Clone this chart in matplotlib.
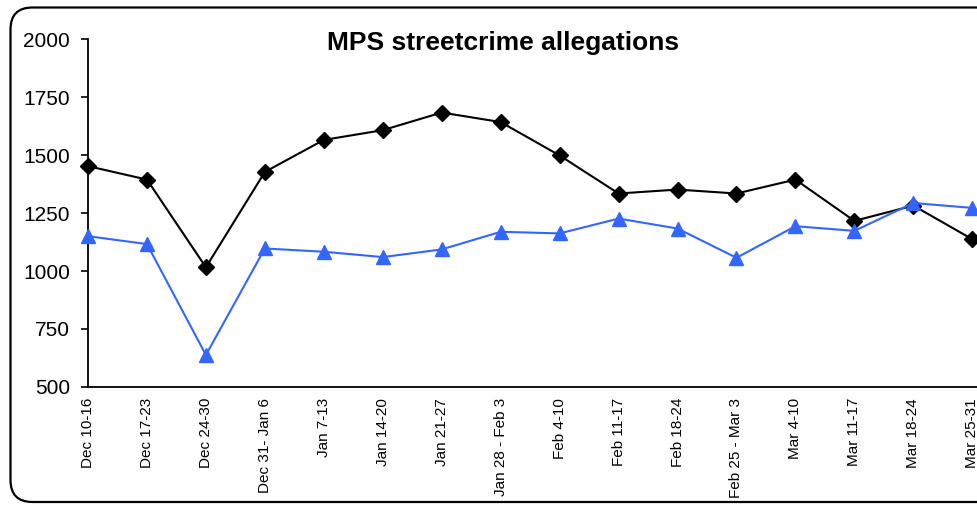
import matplotlib.pyplot as plt
from matplotlib.patches import FancyBboxPatch

plt.rcParams['font.family'] = ['Liberation Sans', 'DejaVu Sans']

semanas = ["Dec 10-16", "Dec 17-23", "Dec 24-30", "Dec 31- Jan 6", "Jan 7-13",
           "Jan 14-20", "Jan 21-27", "Jan 28 - Feb 3", "Feb 4-10", "Feb 11-17",
           "Feb 18-24", "Feb 25 - Mar 3", "Mar 4-10", "Mar 11-17", "Mar 18-24",
           "Mar 25-31"]
serie_preta = [1452, 1394, 1016, 1427, 1565, 1607, 1683, 1642, 1498, 1334,
               1351, 1334, 1394, 1216, 1282, 1137]
serie_azul = [1150, 1116, 638, 1097, 1083, 1060, 1093, 1169, 1162, 1226,
              1183, 1057, 1193, 1173, 1293, 1272]
y_ticks = [500, 750, 1000, 1250, 1500, 1750, 2000]

fig = plt.figure(figsize=(9.77, 5.05), dpi=100)

# moldura arredondada (em pixels)
moldura = FancyBboxPatch((10.5, 3), 990, 494.5, boxstyle="round,pad=0,rounding_size=22",
                         transform=None, fill=False, edgecolor="black", linewidth=1.6)
fig.patches.append(moldura)

ax = fig.add_axes([88 / 977, 1 - 387 / 505, 889 / 977, 348 / 505])
x = list(range(len(semanas)))

ax.plot(x, serie_preta, color="black", linewidth=1.5, marker="D", markersize=8,
        clip_on=False, zorder=3)
ax.plot(x, serie_azul, color="#3366ff", linewidth=1.5, marker="^", markersize=10,
        clip_on=False, zorder=3)

ax.set_xlim(0, 15.08)
ax.set_ylim(500, 2000)
ax.set_yticks(y_ticks)
ax.set_yticklabels([str(v) for v in y_ticks], fontsize=15)
ax.set_xticks(x)
ax.set_xticklabels(semanas, rotation=90, fontsize=11, va="top")
ax.set_xticks([0, 7, 14], minor=True)
ax.tick_params(axis="x", which="major", length=0, pad=8)
ax.tick_params(axis="x", which="minor", length=5, width=1.2, direction="out")
ax.tick_params(axis="y", length=5, width=1.2, pad=8)

for lado in ["top", "right"]:
    ax.spines[lado].set_visible(False)
for lado in ["left", "bottom"]:
    ax.spines[lado].set_linewidth(1.3)

fig.text(503 / 977, 1 - 43 / 505, "MPS streetcrime allegations", fontsize=19,
         fontweight="bold", ha="center", va="center")

fig.savefig("out.png", dpi=100)
